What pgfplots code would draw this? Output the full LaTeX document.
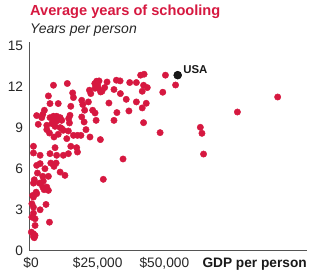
\documentclass[border=0pt]{standalone}
\usepackage{pgfplots}
\pgfplotsset{compat=1.18}
\usepackage{fontspec}
\setmainfont{Liberation Sans}
\definecolor{crim}{HTML}{D61840}
\definecolor{axgray}{HTML}{555555}
\begin{document}
\begin{tikzpicture}
\begin{axis}[
  scale only axis, width=277pt, height=209pt,
  xmin=-0.4, xmax=103.5, ymin=0, ymax=15.31,
  axis x line*=bottom, axis y line*=left,
  axis line style={axgray, line width=1pt},
  every axis x line/.append style={-}, every axis y line/.append style={-},
  major tick length=0pt,
  xtick={0,25,50}, xticklabels={{\$0},{\$25,000},{\$50,000}},
  ytick={0,3,6,9,12,15},
  /pgf/number format/assume math mode=true,
  tick label style={font=\fontsize{13.7}{16}\selectfont, text=black!85},
  xticklabel style={anchor=base, inner sep=0pt, yshift=-17pt},
  yticklabel style={anchor=east, inner sep=0pt, xshift=-6.7pt},
  clip=false,
]
\addplot[only marks, mark=*, mark size=3.2pt, color=crim, mark options={draw=none, fill=crim}] table {
x y
50.4 12.88
54.2 12.16
49.4 11.63
92.5 11.28
77.4 10.18
48.4 8.67
63.5 9.06
64.1 8.62
64.7 7.10
26.0 8.16
34.5 6.74
27.1 5.25
6.9 2.11
42.4 12.95
41.1 12.88
37.0 12.34
39.5 12.34
42.2 12.14
43.6 11.97
41.7 11.70
32.0 12.51
33.4 12.46
28.5 12.38
25.5 12.46
27.6 11.97
26.6 11.70
31.1 11.83
33.5 11.53
35.7 11.11
39.5 10.92
43.2 10.82
41.7 10.48
29.2 10.84
36.7 10.26
32.2 10.14
31.1 9.57
42.2 9.40
8.4 12.14
13.6 12.27
6.5 11.36
7.1 10.80
10.2 10.80
15.6 11.58
15.9 11.24
14.9 10.60
2.1 9.92
5.0 10.31
4.4 10.01
4.0 9.77
2.7 9.28
5.9 9.21
7.1 9.77
8.4 9.87
9.6 9.87
10.9 9.77
8.4 9.57
9.6 9.52
11.5 9.57
7.8 9.33
9.0 9.13
10.9 9.04
5.9 8.89
6.9 8.64
8.6 8.35
10.2 8.55
11.5 8.97
12.1 8.84
14.6 9.94
14.4 9.38
14.1 9.70
14.0 8.79
15.9 8.47
17.4 8.47
18.7 8.47
13.4 8.23
19.0 11.04
19.4 10.73
19.0 9.82
19.9 9.45
20.6 8.89
21.5 10.92
21.9 11.78
22.4 11.53
23.1 10.31
24.0 10.11
24.4 9.57
22.1 8.35
24.0 11.92
25.2 11.92
25.0 12.16
24.6 12.44
23.9 12.27
26.1 11.65
20.1 10.31
0.9 7.67
0.9 7.18
3.4 7.01
7.1 7.13
9.0 7.57
9.6 7.01
12.1 7.01
14.0 7.13
14.9 7.67
17.1 7.57
17.4 7.25
2.1 6.27
3.4 6.40
5.2 6.03
7.4 6.44
9.4 6.44
8.6 6.20
10.9 5.78
12.7 5.54
6.5 5.47
4.4 5.47
2.4 5.71
1.2 5.22
0.9 4.97
3.1 4.97
4.6 5.12
4.4 4.68
5.9 4.68
6.5 4.44
4.9 4.49
1.9 4.31
0.6 4.07
2.1 4.20
0.9 3.95
5.6 3.41
0.3 3.46
0.9 3.21
3.4 3.02
0.9 2.77
0.3 2.48
1.5 2.36
1.5 1.87
0.1 1.38
0.9 1.26
1.5 1.14
0.9 1.06
1.2 0.97
};
\addplot[only marks, mark=*, mark size=4pt, color=black, mark options={draw=none, fill=black!90}] coordinates {(55.0,12.88)}
  node[anchor=west, inner sep=0pt, xshift=5.5pt, yshift=5.7pt, font=\fontsize{11.4}{13}\selectfont\bfseries, text=black!90] {USA};
\node[anchor=base east, inner sep=0pt, font=\fontsize{13.7}{16}\selectfont\bfseries, text=black!90] at (rel axis cs:1,0) [yshift=-17pt] {GDP per person};
\end{axis}
\node[anchor=base west, inner sep=0pt, font=\fontsize{14.6}{17}\selectfont\bfseries, text=crim] at (0pt,235.3pt) {Average years of schooling};
\node[anchor=base west, inner sep=0pt, font=\fontsize{14}{17}\selectfont\itshape, text=black!85] at (0pt,217.7pt) {Years per person};
\pgfresetboundingbox
\path[use as bounding box] (-30pt,-21pt) rectangle (281pt,251pt);
\end{tikzpicture}
\end{document}
